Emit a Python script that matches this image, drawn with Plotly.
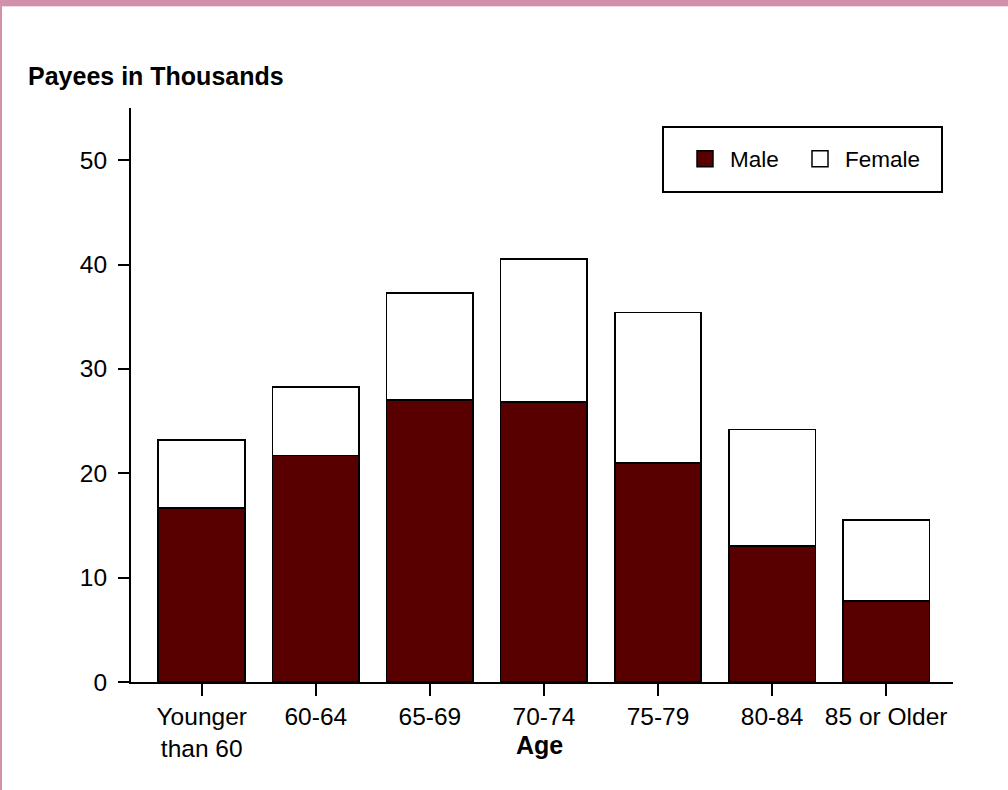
import plotly.graph_objects as go

# ---- data ----
categories = ["Younger<br>than 60", "60-64", "65-69", "70-74", "75-79", "80-84", "85 or Older"]
male = [16.7, 21.7, 27.0, 26.8, 21.0, 13.0, 7.8]
female = [6.5, 6.6, 10.3, 13.7, 14.4, 11.2, 7.7]
y_ticks = [0, 10, 20, 30, 40, 50]

W, H = 1008, 790
ML, MR, MT, MB = 131, 55, 108, 108
PW, PH = W - ML - MR, H - MT - MB


def px(x):
    return (x - ML) / PW


def py(y):
    return (H - MB - y) / PH


FONT = "Arial, 'Liberation Sans', sans-serif"
MALE_C = "#580000"
PINK = "#D291AB"

xi = list(range(len(categories)))

fig = go.Figure()
fig.add_trace(go.Bar(x=xi, y=male, name="Male", marker=dict(color=MALE_C, line=dict(color="black", width=1.8)),
                     width=0.76, showlegend=False))
fig.add_trace(go.Bar(x=xi, y=female, name="Female", marker=dict(color="white", line=dict(color="black", width=1.8)),
                     width=0.76, showlegend=False))
# legend proxies (one per legend box so spacing can match the original)
fig.add_trace(go.Scatter(x=[None], y=[None], mode="markers", name="Male", legend="legend",
                         marker=dict(symbol="square", size=16, color=MALE_C, line=dict(color="black", width=1.5))))
fig.add_trace(go.Scatter(x=[None], y=[None], mode="markers", name="Female", legend="legend2",
                         marker=dict(symbol="square", size=16, color="white", line=dict(color="black", width=1.5))))

shapes = [
    dict(type="rect", xref="paper", yref="paper", x0=px(0), x1=px(W), y0=py(0), y1=py(6),
         fillcolor=PINK, line=dict(width=0), layer="above"),
    dict(type="rect", xref="paper", yref="paper", x0=px(2), x1=px(W), y0=py(6), y1=py(7),
         fillcolor="#F2D6E1", line=dict(width=0), layer="above"),
    dict(type="rect", xref="paper", yref="paper", x0=px(0), x1=px(2), y0=py(0), y1=py(H),
         fillcolor=PINK, line=dict(width=0), layer="above"),
    dict(type="rect", xref="paper", yref="paper", x0=px(663), x1=px(942), y0=py(192), y1=py(127),
         fillcolor="rgba(0,0,0,0)", line=dict(color="black", width=2), layer="above"),
]

annotations = [
    dict(text="<b>Payees in Thousands</b>", xref="paper", yref="paper", x=px(26), y=py(76),
         xanchor="left", yanchor="middle", showarrow=False, font=dict(family=FONT, size=25, color="black")),
    dict(text="<b>Age</b>", xref="paper", yref="paper", x=px(539), y=py(745),
         xanchor="center", yanchor="middle", showarrow=False, font=dict(family=FONT, size=25, color="black")),
]

leg_common = dict(orientation="h", xanchor="left", yanchor="middle",
                  bgcolor="rgba(0,0,0,0)", borderwidth=0, itemwidth=40,
                  font=dict(family=FONT, size=22.5, color="black"))

fig.update_layout(
    width=W, height=H,
    margin=dict(l=ML, r=MR, t=MT, b=MB, autoexpand=False),
    paper_bgcolor="white", plot_bgcolor="white",
    barmode="stack",
    font=dict(family=FONT, size=24, color="black"),
    showlegend=True,
    legend=dict(x=px(680), y=py(159), **leg_common),
    legend2=dict(x=px(795), y=py(159), **leg_common),
    shapes=shapes,
    annotations=annotations,
    xaxis=dict(range=[-0.62, 6.586], tickmode="array", tickvals=xi, ticktext=categories,
               showline=True, linecolor="black", linewidth=2, ticks="outside", ticklen=12,
               tickwidth=2, tickcolor="black", showgrid=False, zeroline=False,
               tickfont=dict(family=FONT, size=24.5, color="black")),
    yaxis=dict(range=[0, 55], tickmode="array", tickvals=y_ticks,
               showline=True, linecolor="black", linewidth=2, ticks="outside", ticklen=11,
               tickwidth=2, tickcolor="black", showgrid=False, zeroline=False,
               ticklabelstandoff=6,
               tickfont=dict(family=FONT, size=24.5, color="black")),
)

fig.write_html("out.html", config={"displayModeBar": False},
               post_script="document.body.style.margin='0';document.body.style.padding='0';")
